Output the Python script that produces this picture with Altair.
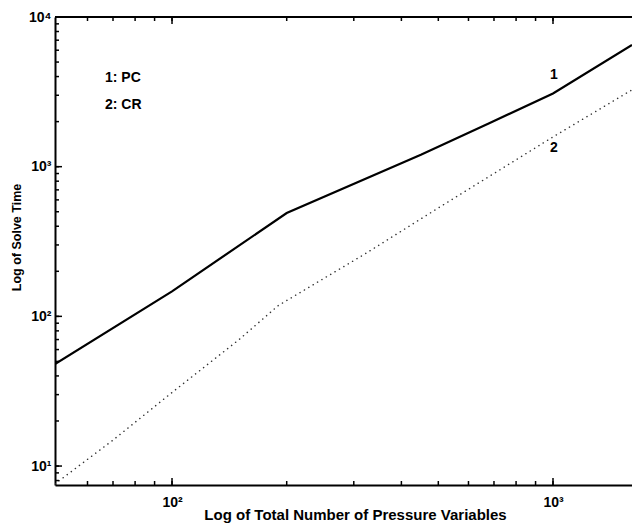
import altair as alt
import pandas as pd

# ---- data ----
pc_n = [49.3, 100, 200, 450, 680, 1000, 1612]
pc_t = [48, 147, 490, 1200, 1950, 3080, 6500]

cr_n = [49.3, 70, 100, 150, 190, 320, 500, 1000, 1612]
cr_t = [7.6, 14.9, 31, 70, 118, 260, 530, 1580, 3260]

legend_text = ["1: PC", "2: CR"]
legend_n = [66.7, 66.7]
legend_t = [3920, 2590]

curve_text = ["1", "2"]
curve_n = [1006, 1006]
curve_t = [4073, 1328]

x_major = [100, 1000]
x_minor = [60, 70, 80, 90, 200, 300, 400, 500, 600, 700, 800, 900]
y_major = [10, 100, 1000, 10000]
y_minor = [8, 9] + [m * 10 ** k for k in (1, 2, 3) for m in range(2, 10)]

X_DOMAIN = [49.3, 1612]
Y_DOMAIN = [7.47, 10000]

W, H = 577, 468
MAJ, MIN = 7, 4

pc = pd.DataFrame({"n": pc_n, "t": pc_t})
cr = pd.DataFrame({"n": cr_n, "t": cr_t})
leg = pd.DataFrame({"n": legend_n, "t": legend_t, "label": legend_text})
cur = pd.DataFrame({"n": curve_n, "t": curve_t, "label": curve_text})
xt = pd.DataFrame({"v": x_major + x_minor,
                   "len": [MAJ] * len(x_major) + [MIN] * len(x_minor)})
yt = pd.DataFrame({"v": y_major + y_minor,
                   "len": [MAJ] * len(y_major) + [MIN] * len(y_minor)})

FONT = "Liberation Sans"
sup = "['\u2070','\u00b9','\u00b2','\u00b3','\u2074','\u2075']"
lab_expr = "'10' + " + sup + "[round(log(datum.value)/LN10)]"

xs = alt.Scale(type="log", domain=X_DOMAIN, nice=False)
ys = alt.Scale(type="log", domain=Y_DOMAIN, nice=False)

# PC line, carries the labelled axes
pc_line = alt.Chart(pc).mark_line(color="black", strokeWidth=2.2, clip=True).encode(
    x=alt.X("n:Q", scale=xs, axis=alt.Axis(
        orient="bottom", values=x_major, labelExpr=lab_expr, ticks=False, tickSize=0,
        domain=True, domainColor="black", domainWidth=2, grid=False,
        labelFont=FONT, labelFontSize=14, labelFontWeight="bold", labelColor="black",
        labelPadding=10, title="Log of Total Number of Pressure Variables",
        titleFont=FONT, titleFontSize=15, titleFontWeight="bold", titleColor="black",
        titleX=300, titleY=29, titleBaseline="middle")),
    y=alt.Y("t:Q", scale=ys, axis=alt.Axis(
        orient="left", values=y_major, labelExpr=lab_expr, ticks=False, tickSize=0,
        domain=True, domainColor="black", domainWidth=2, grid=False,
        labelFont=FONT, labelFontSize=14, labelFontWeight="bold", labelColor="black",
        labelPadding=4, title="Log of Solve Time",
        titleFont=FONT, titleFontSize=12.5, titleFontWeight="bold", titleColor="black",
        titleX=-39, titleY=220, titleBaseline="middle", titleAngle=270)),
)

cr_line = alt.Chart(cr).mark_line(color="#333333", strokeWidth=1.5, strokeDash=[0.1, 5],
                                  strokeCap="round", clip=True).encode(
    x=alt.X("n:Q", scale=xs),
    y=alt.Y("t:Q", scale=ys),
)

leg_text = alt.Chart(leg).mark_text(font=FONT, fontSize=14, fontWeight="bold",
                                    align="left", baseline="middle", color="black").encode(
    x=alt.X("n:Q", scale=xs), y=alt.Y("t:Q", scale=ys), text="label:N")

cur_text = alt.Chart(cur).mark_text(font=FONT, fontSize=14, fontWeight="bold",
                                    align="center", baseline="middle", color="black").encode(
    x=alt.X("n:Q", scale=xs), y=alt.Y("t:Q", scale=ys), text="label:N")

# top border line
top_line = alt.Chart(pc).mark_rule(color="black", strokeWidth=2).encode(
    x=alt.value(0), x2=alt.value(W), y=alt.value(0))

# inward ticks (matlab style) through the scales
x_bottom = alt.Chart(xt).mark_rule(color="black", strokeWidth=1.5).encode(
    x=alt.X("v:Q", scale=xs), y=alt.value(H), y2=alt.value(H - MIN))
x_bottom_major = alt.Chart(xt).transform_filter(alt.datum.len == MAJ).mark_rule(
    color="black", strokeWidth=1.5).encode(x=alt.X("v:Q", scale=xs), y=alt.value(H),
                                           y2=alt.value(H - MAJ))
x_top = alt.Chart(xt).mark_rule(color="black", strokeWidth=1.5).encode(
    x=alt.X("v:Q", scale=xs), y=alt.value(0), y2=alt.value(MIN))
x_top_major = alt.Chart(xt).transform_filter(alt.datum.len == MAJ).mark_rule(
    color="black", strokeWidth=1.5).encode(x=alt.X("v:Q", scale=xs), y=alt.value(0),
                                           y2=alt.value(MAJ))
y_left = alt.Chart(yt).mark_rule(color="black", strokeWidth=1.5).encode(
    y=alt.Y("v:Q", scale=ys), x=alt.value(0), x2=alt.value(MIN))
y_left_major = alt.Chart(yt).transform_filter(alt.datum.len == MAJ).mark_rule(
    color="black", strokeWidth=1.5).encode(y=alt.Y("v:Q", scale=ys), x=alt.value(0),
                                           x2=alt.value(MAJ))

chart = alt.layer(
    pc_line, cr_line, leg_text, cur_text, top_line,
    x_bottom, x_bottom_major, x_top, x_top_major, y_left, y_left_major,
).properties(
    width=W, height=H,
    autosize=alt.AutoSizeParams(type="none"),
    padding={"left": 47, "top": 9, "right": 0, "bottom": 38},
    background="white",
).configure_view(stroke=None)

chart.save("out.html", embed_options={"renderer": "svg", "actions": False})
